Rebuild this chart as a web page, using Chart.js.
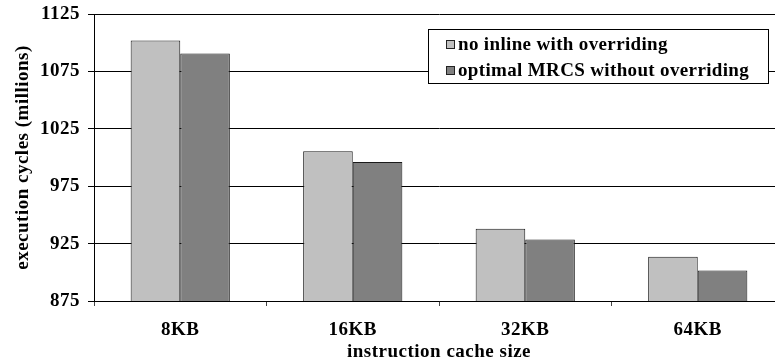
<!DOCTYPE html>
<html>
<head>
<meta charset="utf-8">
<script src="https://cdn.jsdelivr.net/npm/chart.js@4"></script>
<style>
    html, body { margin: 0; padding: 0; background: #fff; overflow: hidden; }
    #wrap { width: 784px; height: 364px; }
    .preload { font: bold 19px 'Liberation Serif'; position: absolute; left: -999px; top: 0; }
</style>
</head>
<body>
<div class="preload">preload 0123456789 KB</div>
<div id="wrap"><canvas id="chart" width="784" height="364"></canvas></div>
<script>
    // values
    var cacheSizes = ['8KB', '16KB', '32KB', '64KB'];
    var noInline = [1102, 1005.5, 938, 913.5];
    var optimalMrcs = [1090.5, 996, 928.5, 901.5];
    var yTicks = [875, 925, 975, 1025, 1075, 1125];
    var seriesNames = ['no inline with overriding', 'optimal MRCS without overriding'];

    var serif = "'Liberation Serif', serif";
    var fontSize = 19;
    var spacing = '0.5px';

    var spacingPlugin = {
        id: 'spacing',
        beforeInit: function (chart) { chart.ctx.letterSpacing = spacing; },
        beforeUpdate: function (chart) { chart.ctx.letterSpacing = spacing; },
        beforeDraw: function (chart) { chart.ctx.letterSpacing = spacing; }
    };

    // boxed legend inside the plot, top right
    var boxLegend = {
        id: 'boxLegend',
        afterDraw: function (chart) {
            var ctx = chart.ctx;
            var area = chart.chartArea;
            var right = area.right - 16, left = right - 340;
            var top = area.top + 15, bottom = top + 54;
            ctx.save();
            ctx.letterSpacing = '0.35px';
            ctx.fillStyle = '#fff';
            ctx.fillRect(left, top, right - left, bottom - top);
            ctx.strokeStyle = '#000';
            ctx.lineWidth = 1;
            ctx.strokeRect(left + 0.5, top + 0.5, right - left, bottom - top);
            ctx.font = 'bold ' + fontSize + 'px ' + serif;
            ctx.textBaseline = 'middle';
            chart.data.datasets.forEach(function (ds, i) {
                var cy = top + 15 + i * 26;
                ctx.fillStyle = ds.backgroundColor;
                ctx.fillRect(left + 18, cy - 4, 8, 8);
                ctx.strokeStyle = '#222';
                ctx.strokeRect(left + 18.5, cy - 3.5, 8, 8);
                ctx.fillStyle = '#000';
                ctx.fillText(ds.label, left + 30, cy + 1);
            });
            ctx.restore();
        }
    };

    function draw() {
        var font = { family: serif, size: fontSize, weight: 'bold' };
        new Chart(document.getElementById('chart'), {
            type: 'bar',
            data: {
                labels: cacheSizes,
                datasets: [
                    {
                        label: seriesNames[0],
                        data: noInline,
                        backgroundColor: '#c0c0c0',
                        borderColor: '#1a1a1a',
                        borderWidth: 1,
                        borderSkipped: 'start'
                    },
                    {
                        label: seriesNames[1],
                        data: optimalMrcs,
                        backgroundColor: '#808080',
                        borderColor: '#1a1a1a',
                        borderWidth: 1,
                        borderSkipped: 'start'
                    }
                ]
            },
            options: {
                responsive: false,
                animation: false,
                layout: { padding: { top: 14, right: 0, bottom: 0, left: 0 } },
                datasets: { bar: { barPercentage: 1, categoryPercentage: 0.575 } },
                plugins: {
                    legend: { display: false },
                    tooltip: { enabled: false }
                },
                scales: {
                    x: {
                        afterFit: function (s) {
                            s.height = 63;
                            s.paddingLeft = 0;
                            s.paddingRight = 0;
                        },
                        grid: {
                            display: true,
                            drawOnChartArea: false,
                            drawTicks: true,
                            tickLength: 5,
                            offset: true,
                            color: '#444'
                        },
                        border: { display: true, color: '#000', width: 1 },
                        ticks: { color: '#000', padding: 13, font: font },
                        title: {
                            display: true,
                            text: 'instruction cache size',
                            color: '#000',
                            padding: { top: 0, bottom: 1 },
                            font: font
                        }
                    },
                    y: {
                        min: yTicks[0],
                        max: yTicks[yTicks.length - 1],
                        afterFit: function (s) {
                            s.width = 94;
                            s.paddingTop = 0;
                            s.paddingBottom = 0;
                        },
                        afterBuildTicks: function (s) {
                            s.ticks = yTicks.map(function (v) { return { value: v }; });
                        },
                        grid: {
                            color: '#000',
                            lineWidth: 1,
                            drawTicks: true,
                            tickLength: 6
                        },
                        border: { display: true, color: '#000', width: 1 },
                        ticks: {
                            color: '#000',
                            padding: 8,
                            callback: function (v) { return String(v); },
                            font: font
                        },
                        title: {
                            display: true,
                            text: 'execution cycles (millions)',
                            color: '#000',
                            padding: { top: 12, bottom: 0 },
                            font: font
                        }
                    }
                }
            },
            plugins: [spacingPlugin, boxLegend]
        });
    }

    if (document.fonts && document.fonts.load) {
        document.fonts.load('bold 19px "Liberation Serif"').then(draw, draw);
    } else {
        draw();
    }
</script>
</body>
</html>
